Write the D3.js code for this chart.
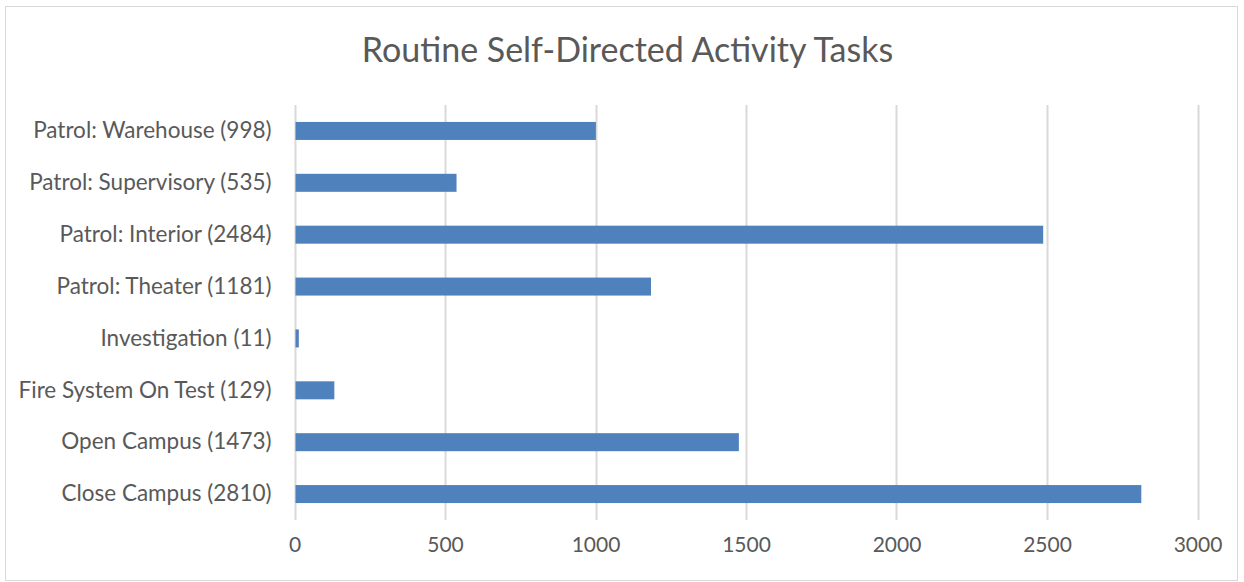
<!DOCTYPE html>
<html>
<head>
<meta charset="utf-8">
<script src="https://cdn.jsdelivr.net/npm/d3@7"></script>
<style>
  body { margin: 0; background: #fff; }
  svg { display: block; font-family: Lato, "Open Sans", sans-serif; }
</style>
</head>
<body>
<div id="chart"></div>
<script>
// Chart data
const categories = [
    'Patrol: Warehouse (998)',
    'Patrol: Supervisory (535)',
    'Patrol: Interior (2484)',
    'Patrol: Theater (1181)',
    'Investigation (11)',
    'Fire System On Test (129)',
    'Open Campus (1473)',
    'Close Campus (2810)'
];
const values = [998, 535, 2484, 1181, 11, 129, 1473, 2810];
const xTicks = [0, 500, 1000, 1500, 2000, 2500, 3000];
const title = 'Routine Self-Directed Activity Tasks';

const width = 1244, height = 582;
const margin = { top: 105, right: 46.5, bottom: 62, left: 294.5 };

const svg = d3.select('#chart')
    .append('svg')
    .attr('width', width)
    .attr('height', height);

// Outer chart border
svg.append('rect')
    .attr('x', 5.5)
    .attr('y', 6.5)
    .attr('width', 1232)
    .attr('height', 574)
    .attr('fill', '#fff')
    .attr('stroke', '#d9d9d9')
    .attr('stroke-width', 1);

const x = d3.scaleLinear()
    .domain([0, 3000])
    .range([margin.left, width - margin.right]);

const y = d3.scaleBand()
    .domain(categories)
    .range([margin.top, height - margin.bottom])
    .paddingInner(0.653)
    .paddingOuter(0.3265);

// Title
svg.append('text')
    .attr('x', 627.5)
    .attr('y', 62)
    .attr('text-anchor', 'middle')
    .style('font-size', '34px')
    .style('fill', '#595959')
    .text(title);

// Vertical gridlines
svg.append('g')
    .selectAll('line')
    .data(xTicks)
    .enter()
    .append('line')
    .attr('x1', d => Math.round(x(d)) + 0.5)
    .attr('x2', d => Math.round(x(d)) + 0.5)
    .attr('y1', margin.top)
    .attr('y2', height - margin.bottom)
    .attr('stroke', '#d9d9d9')
    .attr('stroke-width', 2);

// Bars
svg.append('g')
    .selectAll('rect')
    .data(values)
    .enter()
    .append('rect')
    .attr('x', x(0) + 1)
    .attr('y', (d, i) => y(categories[i]))
    .attr('width', d => Math.max(1, x(d) - x(0)))
    .attr('height', y.bandwidth())
    .attr('fill', '#4f81bd');

// X axis tick labels
const xAxis = d3.axisBottom(x)
    .tickValues(xTicks)
    .tickFormat(d3.format('d'))
    .tickSize(0)
    .tickPadding(0);

svg.append('g')
    .attr('transform', `translate(0, ${height - margin.bottom + 17})`)
    .call(xAxis)
    .call(g => g.select('.domain').remove())
    .call(g => g.selectAll('text')
        .style('font-size', '21px')
        .style('font-family', 'Lato, "Open Sans", sans-serif')
        .style('fill', '#595959'));

// Y axis category labels
const yAxis = d3.axisLeft(y)
    .tickSize(0)
    .tickPadding(23);

svg.append('g')
    .attr('transform', `translate(${margin.left}, 0)`)
    .call(yAxis)
    .call(g => g.select('.domain').remove())
    .call(g => g.selectAll('text')
        .style('font-size', '22.5px')
        .style('font-family', 'Lato, "Open Sans", sans-serif')
        .style('fill', '#595959'));
</script>
</body>
</html>
